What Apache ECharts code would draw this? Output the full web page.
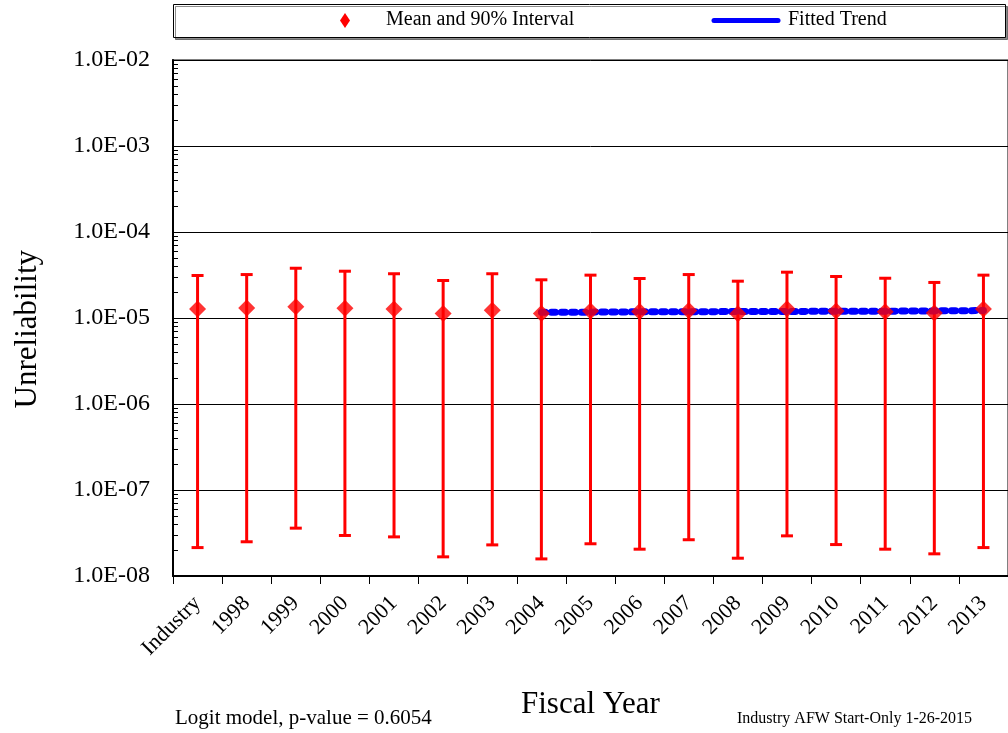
<!DOCTYPE html>
<html>
<head>
<meta charset="utf-8">
<title>Industry AFW Start-Only Unreliability</title>
<script src="https://cdn.jsdelivr.net/npm/echarts@6/dist/echarts.min.js"></script>
<style>
  html, body { margin: 0; padding: 0; background: #ffffff; }
  #chart { width: 1008px; height: 733px; }
</style>
</head>
<body>
<div id="chart"></div>
<script>
// Fiscal-year categories (first entry is the industry-wide estimate)
const categories = ['Industry', '1998', '1999', '2000', '2001', '2002', '2003', '2004',
  '2005', '2006', '2007', '2008', '2009', '2010', '2011', '2012', '2013'];

// Mean unreliability per category
const means = [1.27e-5, 1.31e-5, 1.35e-5, 1.30e-5, 1.27e-5, 1.13e-5, 1.23e-5, 1.13e-5,
  1.21e-5, 1.19e-5, 1.22e-5, 1.12e-5, 1.28e-5, 1.21e-5, 1.18e-5, 1.14e-5, 1.27e-5];

// 90% interval bounds
const lower = [2.14e-8, 2.50e-8, 3.60e-8, 2.96e-8, 2.85e-8, 1.67e-8, 2.30e-8, 1.58e-8,
  2.37e-8, 2.05e-8, 2.64e-8, 1.61e-8, 2.93e-8, 2.32e-8, 2.05e-8, 1.81e-8, 2.14e-8];
const upper = [3.12e-5, 3.20e-5, 3.79e-5, 3.50e-5, 3.27e-5, 2.73e-5, 3.27e-5, 2.78e-5,
  3.15e-5, 2.88e-5, 3.20e-5, 2.68e-5, 3.41e-5, 3.04e-5, 2.90e-5, 2.59e-5, 3.15e-5];

// Fitted logit trend over the recent years
const trendYears = ['2004', '2005', '2006', '2007', '2008', '2009', '2010', '2011', '2012', '2013'];
const trendValues = [1.17e-5, 1.17e-5, 1.18e-5, 1.18e-5, 1.19e-5, 1.19e-5, 1.20e-5, 1.20e-5, 1.21e-5, 1.22e-5];

// Y-axis tick labels, one per decade from 1E-08 to 1E-02
const yTickLabels = ['1.0E-08', '1.0E-07', '1.0E-06', '1.0E-05', '1.0E-04', '1.0E-03', '1.0E-02'];

// Legend entries
const legendNames = ['Mean and 90% Interval', 'Fitted Trend'];

const FONT = "'Liberation Serif', 'Times New Roman', serif";
const RED = '#ff0000';
const BLUE = '#0000ff';

const chart = echarts.init(document.getElementById('chart'), null, { renderer: 'canvas' });

const intervalData = categories.map((c, i) => [c, lower[i], upper[i]]);
const meanData = categories.map((c, i) => [c, means[i]]);
const trendData = trendYears.map((y, i) => [y, trendValues[i]]);

function decadeLabel(v) {
  const e = Math.round(Math.log10(v));
  return yTickLabels[e + 8] || '';
}

// Vertical interval bar with caps at both bounds
function renderInterval(params, api) {
  const idx = api.value(0);
  const lo = api.coord([idx, api.value(1)]);
  const hi = api.coord([idx, api.value(2)]);
  const cap = 6;
  const style = { stroke: RED, lineWidth: 3 };
  return {
    type: 'group',
    children: [
      { type: 'line', shape: { x1: lo[0], y1: lo[1], x2: hi[0], y2: hi[1] }, style },
      { type: 'line', shape: { x1: hi[0] - cap, y1: hi[1], x2: hi[0] + cap, y2: hi[1] }, style },
      { type: 'line', shape: { x1: lo[0] - cap, y1: lo[1], x2: lo[0] + cap, y2: lo[1] }, style }
    ]
  };
}

const option = {
  animation: false,
  backgroundColor: '#ffffff',
  textStyle: { fontFamily: FONT, color: '#000' },
  grid: {
    left: 173, top: 60, width: 842, height: 516,
    show: true, borderColor: '#808080', borderWidth: 2, backgroundColor: 'transparent'
  },
  xAxis: {
    type: 'category',
    data: categories,
    boundaryGap: true,
    axisLine: { show: true, lineStyle: { color: '#000', width: 2 } },
    axisTick: { show: true, alignWithLabel: false, length: 8, inside: false, lineStyle: { color: '#000', width: 1 } },
    axisLabel: {
      interval: 0, rotate: 45, margin: 24,
      fontFamily: FONT, fontSize: 22, color: '#000'
    },
    splitLine: { show: false }
  },
  yAxis: {
    type: 'log',
    logBase: 10,
    min: 1e-8,
    max: 1e-2,
    splitNumber: 6,
    axisLine: { show: true, lineStyle: { color: '#000', width: 2 } },
    axisTick: { show: true, inside: true, length: 9, lineStyle: { color: '#000', width: 1 } },
    minorTick: { show: true, splitNumber: 9, length: 5, lineStyle: { color: '#000', width: 1 } },
    axisLabel: {
      margin: 23, fontFamily: FONT, fontSize: 24, color: '#000',
      formatter: decadeLabel
    },
    splitLine: {
      show: true,
      lineStyle: { color: ['#000', '#000', '#000', '#000', '#000', '#000', '#808080'], width: 1 }
    }
  },
  series: [
    {
      name: legendNames[0],
      type: 'custom',
      renderItem: renderInterval,
      data: intervalData,
      encode: { x: 0, y: [1, 2] },
      z: 2,
      silent: true
    },
    {
      name: legendNames[1],
      type: 'line',
      data: trendData,
      showSymbol: false,
      symbol: 'none',
      lineStyle: { color: BLUE, width: 7, type: [4, 6], cap: 'round' },
      itemStyle: { color: BLUE },
      z: 3,
      silent: true
    },
    {
      name: legendNames[0],
      type: 'scatter',
      data: meanData,
      symbol: 'diamond',
      symbolSize: [17, 17],
      itemStyle: { color: RED },
      z: 4,
      silent: true
    }
  ],
  graphic: [
    // legend box with its two keys
    {
      type: 'rect', left: 173, top: 4, z: 10,
      shape: { width: 832, height: 33 },
      style: {
        fill: '#ffffff', stroke: '#000', lineWidth: 1,
        shadowColor: 'rgba(0,0,0,0.45)', shadowOffsetX: 2, shadowOffsetY: 2, shadowBlur: 0
      }
    },
    {
      type: 'polygon', z: 11,
      shape: { points: [[345, 13], [350, 20.5], [345, 28], [340, 20.5]] },
      style: { fill: RED }
    },
    {
      type: 'text', left: 386, top: 10, z: 11,
      style: { text: legendNames[0], font: '20px ' + FONT, fill: '#000' }
    },
    {
      type: 'line', z: 11,
      shape: { x1: 714, y1: 20.5, x2: 778, y2: 20.5 },
      style: { stroke: BLUE, lineWidth: 5, lineCap: 'round' }
    },
    {
      type: 'text', left: 788, top: 10, z: 11,
      style: { text: legendNames[1], font: '20px ' + FONT, fill: '#000' }
    },
    // axis titles and notes
    {
      type: 'text', left: 12, top: 250,
      rotation: Math.PI / 2,
      style: { text: 'Unreliability', font: '31px ' + FONT, fill: '#000' }
    },
    {
      type: 'text', left: 521, top: 689,
      style: { text: 'Fiscal Year', font: '31px ' + FONT, fill: '#000' }
    },
    {
      type: 'text', left: 175, top: 708,
      style: { text: 'Logit model, p-value = 0.6054', font: '21px ' + FONT, fill: '#000' }
    },
    {
      type: 'text', left: 737, top: 711,
      style: { text: 'Industry AFW Start-Only 1-26-2015', font: '16px ' + FONT, fill: '#000' }
    }
  ]
};

chart.setOption(option);
</script>
</body>
</html>
